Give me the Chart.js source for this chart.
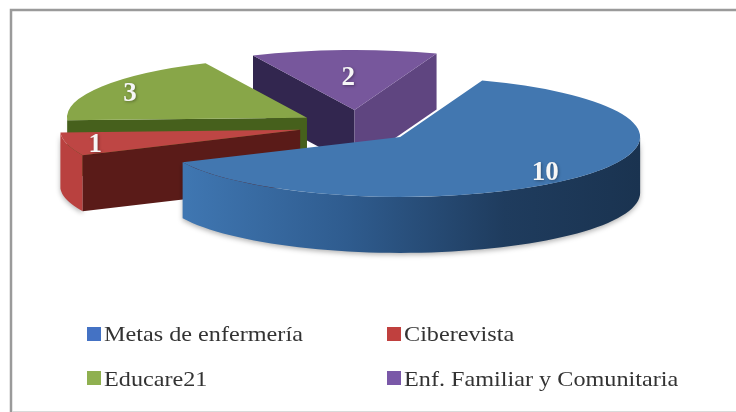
<!DOCTYPE html>
<html><head><meta charset="utf-8">
<style>html,body{margin:0;padding:0;background:#fff}canvas{display:block;filter:blur(0.45px)}</style>
<script src="https://cdn.jsdelivr.net/npm/chart.js@4"></script>
</head><body><canvas id="c" width="736" height="412"></canvas>
<script>
const categories = ["Metas de enfermería", "Ciberevista", "Educare21", "Enf. Familiar y Comunitaria"];
const values = [10, 1, 3, 2];
const topColors = ["#4277B0", "#BE4644", "#88A648", "#77579C"];
const legendColors = ["#4472C4", "#C0403E", "#8FB050", "#7A58A8"];
const rimColors = [null, "#B9413F", "#46601C", "#32264F"];
const startWallColors = ["#2E5A8C", "#5A1B18", "#46601C", "#32264F"];
const endWallColors = ["#2E5A8C", "#5A1B18", "#46601C", "#5F4580"];
const labelRadius = [197, 211, 207, 140];
const paintOrder = [3, 2, 1, 0];

const TILT = 0.25, EXPLODE_TILT = 0.2755, DEPTH = 56, CENTER_Y = 126, EXPLODE = 58.5, LABEL_DROP = 3;

function apexOf(el) {
  const mid = (el.startAngle + el.endAngle) / 2;
  return {
    x: el.x + Math.cos(mid) * EXPLODE,
    y: CENTER_Y + Math.sin(mid) * EXPLODE * EXPLODE_TILT
  };
}
function project(el, angle, radius) {
  const a = apexOf(el);
  return {x: a.x + Math.cos(angle) * radius, y: a.y + Math.sin(angle) * radius * TILT};
}
function quad(ctx, pts, fill) {
  ctx.beginPath();
  pts.forEach((p, i) => i ? ctx.lineTo(p.x, p.y) : ctx.moveTo(p.x, p.y));
  ctx.closePath();
  ctx.fillStyle = fill;
  ctx.fill();
}
const down = p => ({x: p.x, y: p.y + DEPTH});

const pie3d = {
  id: 'pie3d',
  beforeDatasetDraw(chart) {
    const ctx = chart.ctx, arcs = chart.getDatasetMeta(0).data;
    paintOrder.forEach(i => {
      const el = arcs[i], a0 = el.startAngle, a1 = el.endAngle, R = el.outerRadius;
      const apex = apexOf(el);
      const rim = [];
      for (let k = 0; k <= 90; k++) {
        const a = a0 + (a1 - a0) * k / 90;
        if (Math.sin(a) >= 0) rim.push(project(el, a, R));
      }
      if (rim.length > 1) {
        let fill = rimColors[i];
        if (i === 0) {
          fill = ctx.createLinearGradient(187, 0, 640, 0);
          fill.addColorStop(0, "#3F76B1");
          fill.addColorStop(0.35, "#2F5C8F");
          fill.addColorStop(0.7, "#1F3C5E");
          fill.addColorStop(1, "#1A3350");
        }
        ctx.save();
        ctx.shadowColor = 'rgba(0,0,0,0.3)';
        ctx.shadowBlur = 5;
        ctx.shadowOffsetY = 2;
        quad(ctx, rim.concat(rim.slice().reverse().map(down)), fill);
        ctx.restore();
      }
      const pA = project(el, a0, R), pB = project(el, a1, R);
      if (Math.cos(a0) < 0) quad(ctx, [apex, pA, down(pA), down(apex)], startWallColors[i]);
      if (Math.cos(a1) > 0) quad(ctx, [apex, pB, down(pB), down(apex)], endWallColors[i]);
      // top face: the library's own arc, exploded and squashed
      ctx.save();
      ctx.translate(apex.x - el.x, apex.y);
      ctx.scale(1, TILT);
      ctx.translate(0, -el.y);
      el.draw(ctx);
      ctx.restore();
    });
    return false;
  },
  afterDraw(chart) {
    const ctx = chart.ctx, arcs = chart.getDatasetMeta(0).data;
    ctx.save();
    // value labels
    ctx.save();
    ctx.font = 'bold 27px "Liberation Serif"';
    ctx.textAlign = 'center';
    ctx.textBaseline = 'middle';
    ctx.fillStyle = '#F6F6F6';
    ctx.shadowColor = 'rgba(0,0,0,0.35)';
    ctx.shadowBlur = 3;
    ctx.shadowOffsetX = 1;
    ctx.shadowOffsetY = 1;
    arcs.forEach((el, i) => {
      const p = project(el, (el.startAngle + el.endAngle) / 2, labelRadius[i]);
      ctx.fillText(String(values[i]), p.x, p.y + LABEL_DROP);
    });
    ctx.restore();
    // legend
    const colX = [87, 387], rowY = [327, 371], baseY = [341, 386], STRETCH = 1.1;
    ctx.font = '22px "Liberation Serif"';
    ctx.textAlign = 'left';
    ctx.textBaseline = 'alphabetic';
    categories.forEach((name, i) => {
      const x = colX[i % 2], r = i >> 1;
      ctx.fillStyle = legendColors[i];
      ctx.fillRect(x, rowY[r], 14, 14);
      ctx.fillStyle = '#333';
      ctx.save();
      ctx.translate(x + 17, baseY[r]);
      ctx.scale(STRETCH, 1);
      ctx.fillText(name, 0, 0);
      ctx.restore();
    });
    // frame
    ctx.strokeStyle = '#9A9A9A';
    ctx.lineWidth = 2.5;
    ctx.beginPath();
    ctx.moveTo(11, 412); ctx.lineTo(11, 10); ctx.lineTo(736, 10);
    ctx.stroke();
    ctx.strokeStyle = '#DADADA';
    ctx.lineWidth = 1;
    ctx.beginPath();
    ctx.moveTo(12, 411.5); ctx.lineTo(736, 411.5);
    ctx.stroke();
    ctx.restore();
  }
};

new Chart(document.getElementById('c'), {
  type: 'pie',
  data: {
    labels: categories,
    datasets: [{
      data: values,
      backgroundColor: topColors,
      borderWidth: 0,
      radius: 240,
      rotation: 20
    }]
  },
  options: {
    responsive: false,
    animation: false,
    layout: {padding: {right: 22}},
    plugins: {legend: {display: false}, tooltip: {enabled: false}}
  },
  plugins: [pie3d]
});
</script></body></html>
